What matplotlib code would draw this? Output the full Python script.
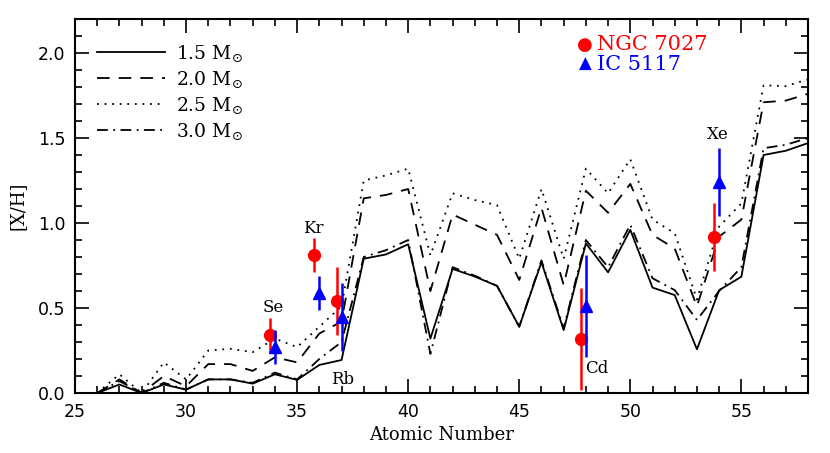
import matplotlib
matplotlib.use("Agg")
import matplotlib.pyplot as plt
import numpy as np

# ---- data ----
Z = list(range(26, 59))
m15 = [0.00, 0.05, 0.00, 0.05, 0.02, 0.08, 0.08, 0.055, 0.11, 0.077, 0.165, 0.194,
       0.79, 0.815, 0.875, 0.32, 0.73, 0.685, 0.63, 0.39, 0.77, 0.37, 0.88, 0.71,
       0.96, 0.62, 0.576, 0.257, 0.605, 0.684, 1.40, 1.425, 1.47]
m20 = [0.00, 0.08, 0.00, 0.10, 0.04, 0.17, 0.17, 0.13, 0.21, 0.18, 0.35, 0.42,
       1.145, 1.165, 1.20, 0.60, 1.05, 0.99, 0.93, 0.665, 1.09, 0.635, 1.19, 1.06,
       1.23, 0.93, 0.85, 0.51, 0.92, 1.02, 1.71, 1.72, 1.76]
m25 = [0.00, 0.11, 0.00, 0.18, 0.08, 0.25, 0.26, 0.24, 0.32, 0.27, 0.39, 0.51,
       1.25, 1.28, 1.32, 0.81, 1.175, 1.135, 1.105, 0.79, 1.20, 0.79, 1.32, 1.175,
       1.375, 1.02, 0.94, 0.55, 0.98, 1.115, 1.81, 1.805, 1.845]
m30 = [0.00, 0.07, 0.00, 0.06, 0.02, 0.08, 0.08, 0.06, 0.12, 0.08, 0.20, 0.30,
       0.80, 0.84, 0.90, 0.23, 0.74, 0.69, 0.63, 0.39, 0.78, 0.38, 0.90, 0.74,
       0.99, 0.675, 0.605, 0.43, 0.60, 0.74, 1.44, 1.46, 1.50]

ngc_Z = [33.78, 35.78, 36.78, 47.78, 53.78]
ngc_val = [0.34, 0.81, 0.54, 0.32, 0.92]
ngc_err = [0.10, 0.10, 0.20, 0.30, 0.20]

ic_Z = [34.0, 36.0, 37.0, 48.0, 54.0]
ic_val = [0.27, 0.59, 0.45, 0.51, 1.24]
ic_err = [0.10, 0.10, 0.20, 0.30, 0.20]

elem_names = ["Se", "Kr", "Rb", "Cd", "Xe"]
elem_x = [33.92, 35.73, 37.03, 48.47, 53.96]
elem_y = [0.50, 0.97, 0.08, 0.145, 1.52]

mass_labels = [r"1.5 M$_{\odot}$", r"2.0 M$_{\odot}$", r"2.5 M$_{\odot}$", r"3.0 M$_{\odot}$"]

# ---- figure ----
fig = plt.figure(figsize=(8.30, 4.53), dpi=100)
ax = fig.add_axes([75/830, 1-393/453, (808-75)/830, (393-19)/453])

lw = 1.3
styles = [dict(ls="-"),
          dict(ls=(0, (7, 5))),
          dict(ls=(0, (1, 3.2))),
          dict(ls=(0, (6, 3, 1, 3)))]
series = [m15, m20, m25, m30]
handles = []
for vals, st, lab in zip(series, styles, mass_labels):
    h, = ax.plot(Z, vals, color="black", lw=lw, label=lab, **st)
    handles.append(h)

ax.errorbar(ngc_Z, ngc_val, yerr=ngc_err, fmt="o", color="red", ms=8.5,
            elinewidth=1.8, capsize=0, zorder=5)
ax.errorbar(ic_Z, ic_val, yerr=ic_err, fmt="^", color="blue", ms=9,
            elinewidth=1.8, capsize=0, zorder=6)

for n, x, y in zip(elem_names, elem_x, elem_y):
    ax.text(x, y, n, ha="center", va="center", fontsize=12,
            family="DejaVu Serif", color="black")

ax.set_xlim(25, 58)
ax.set_ylim(0, 2.2)
ax.set_xticks([25, 30, 35, 40, 45, 50, 55])
ax.set_xticks(np.arange(25, 59, 1), minor=True)
ax.set_yticks([0.0, 0.5, 1.0, 1.5, 2.0])
ax.set_yticks(np.arange(0, 2.21, 0.1), minor=True)
ax.yaxis.set_major_formatter(matplotlib.ticker.FormatStrFormatter("%.1f"))
ax.tick_params(which="both", direction="in", top=True, right=True, width=1.2)
ax.tick_params(which="major", length=10, labelsize=12.5, pad=7)
ax.tick_params(which="minor", length=5)
for sp in ax.spines.values():
    sp.set_linewidth(1.5)

ax.set_xlabel("Atomic Number", family="DejaVu Serif", fontsize=13, labelpad=4)
ax.set_ylabel("[X/H]", family="DejaVu Serif", fontsize=13, labelpad=8)

leg = ax.legend(handles=handles, loc="upper left",
                bbox_to_anchor=((97 - 75) / 733, (393 - 43) / 374),
                borderaxespad=0, borderpad=0,
                frameon=False, handlelength=3.6, handletextpad=0.6,
                labelspacing=0.3, prop=dict(family="DejaVu Serif", size=13.5))

# top-right legend for observations
fig.text(585/830, 1-45/453, "\u25cf", color="red", fontsize=13, ha="center", va="center")
fig.text(597/830, 1-45/453, "NGC 7027", color="red", fontsize=15,
         family="DejaVu Serif", ha="left", va="center")
fig.text(585/830, 1-64/453, "\u25b2", color="blue", fontsize=12, ha="center", va="center")
fig.text(597/830, 1-64/453, "IC 5117", color="blue", fontsize=15,
         family="DejaVu Serif", ha="left", va="center")

fig.savefig("out.png", dpi=100)
